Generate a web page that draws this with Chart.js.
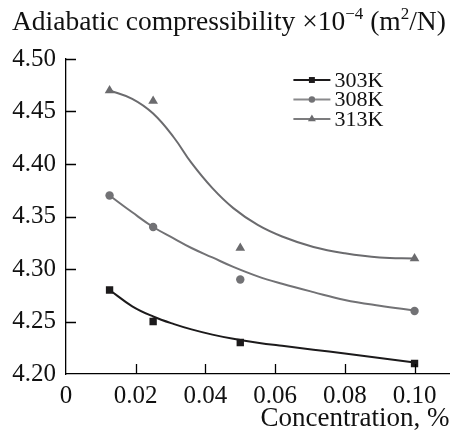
<!DOCTYPE html>
<html>
<head>
<meta charset="utf-8">
<script src="https://cdn.jsdelivr.net/npm/chart.js@4.4.1/dist/chart.umd.min.js"></script>
<style>
  html, body { margin: 0; padding: 0; background: #fff; }
  #wrap { width: 455px; height: 432px; }
</style>
</head>
<body>
<div id="wrap"><canvas id="compChart" width="455" height="432"></canvas></div>
<script>
        // --- 1. Data ---

        const concentration = [0.0125, 0.025, 0.05, 0.1];
        const k303 = [4.28, 4.25, 4.23, 4.21];
        const k308 = [4.37, 4.34, 4.29, 4.26];
        const k313 = [4.47, 4.46, 4.32, 4.31];

        // fitted trend lines
        const fitConc = [0.0125, 0.019, 0.025, 0.031, 0.036, 0.042, 0.048, 0.055, 0.062, 0.071, 0.08, 0.09, 0.1];
        const fit303 = [4.280, 4.2645, 4.2548, 4.2475, 4.2425, 4.2375, 4.2335, 4.2298, 4.2268, 4.2232, 4.2195, 4.2153, 4.211];
        const fit308 = [4.370, 4.354, 4.340, 4.329, 4.320, 4.311, 4.302, 4.293, 4.286, 4.278, 4.2705, 4.265, 4.2605];
        const fit313 = [4.470, 4.462, 4.448, 4.425, 4.401, 4.377, 4.358, 4.342, 4.331, 4.321, 4.315, 4.311, 4.310];

        const seriesLabels = ['303K', '308K', '313K'];
        const xTicks = [0, 0.02, 0.04, 0.06, 0.08, 0.10];
        const xTickLabels = ['0', '0.02', '0.04', '0.06', '0.08', '0.10'];
        const yTicks = [4.20, 4.25, 4.30, 4.35, 4.40, 4.45, 4.50];
        const yTickLabels = ['4.20', '4.25', '4.30', '4.35', '4.40', '4.45', '4.50'];

        const SERIF = "'Liberation Serif', 'Times New Roman', serif";
        const toXY = (xs, ys) => xs.map((x, i) => ({ x: x, y: ys[i] }));

        const styles = [
            { color: '#1c1a1b', legendLine: '#1c1a1b', point: 'rect', radius: 5.2 },
            { color: '#727275', legendLine: '#8a8a8c', point: 'circle', radius: 4.2 },
            { color: '#6b6b6e', legendLine: '#7c7c7e', point: 'triangle', radius: 5.6 }
        ];

        // --- 2. Small plugins: inward ticks, title, legend ---

        const inwardTicks = {
            id: 'inwardTicks',
            afterDraw(chart) {
                const { ctx, chartArea, scales } = chart;
                ctx.save();
                ctx.strokeStyle = '#000';
                ctx.lineWidth = 1.3;
                ctx.beginPath();
                yTicks.slice(1).forEach(v => {
                    const py = Math.round(scales.y.getPixelForValue(v)) + 0.5;
                    ctx.moveTo(chartArea.left, py);
                    ctx.lineTo(chartArea.left + 10, py);
                });
                xTicks.slice(1).forEach(v => {
                    const px = Math.round(scales.x.getPixelForValue(v)) + 0.5;
                    ctx.moveTo(px, chartArea.bottom);
                    ctx.lineTo(px, chartArea.bottom - 10);
                });
                ctx.stroke();
                ctx.restore();
            }
        };

        const axisTitle = {
            id: 'axisTitle',
            afterDraw(chart) {
                const ctx = chart.ctx;
                const big = '27.5px ' + SERIF, small = '17px ' + SERIF;
                const parts = [
                    ['Adiabatic compressibility \u00d710', big, 0],
                    ['\u22124', small, -11],
                    [' (m', big, 0],
                    ['2', small, -11],
                    ['/N)', big, 0]
                ];
                ctx.save();
                ctx.fillStyle = '#111';
                ctx.textBaseline = 'alphabetic';
                let x = 12;
                parts.forEach(([t, f, dy]) => {
                    ctx.font = f;
                    ctx.fillText(t, x, 30 + dy);
                    x += ctx.measureText(t).width;
                });
                ctx.restore();
            }
        };

        const markerPath = (ctx, kind, x, y, r) => {
            ctx.beginPath();
            if (kind === 'rect') {
                const s = r * Math.SQRT1_2;
                ctx.rect(x - s, y - s, 2 * s, 2 * s);
            } else if (kind === 'circle') {
                ctx.arc(x, y, r, 0, Math.PI * 2);
            } else {
                ctx.moveTo(x, y - r);
                ctx.lineTo(x + r * 0.866, y + r * 0.5);
                ctx.lineTo(x - r * 0.866, y + r * 0.5);
                ctx.closePath();
            }
            ctx.fill();
        };

        const insideLegend = {
            id: 'insideLegend',
            afterDraw(chart) {
                const { ctx, chartArea } = chart;
                const x0 = chartArea.right - 158;
                ctx.save();
                ctx.font = '22px ' + SERIF;
                ctx.textBaseline = 'middle';
                seriesLabels.forEach((lab, i) => {
                    const y = chartArea.top + 21 + i * 19.5;
                    const st = styles[i];
                    ctx.strokeStyle = st.legendLine;
                    ctx.lineWidth = 2;
                    ctx.beginPath();
                    ctx.moveTo(x0 + 2, y);
                    ctx.lineTo(x0 + 39, y);
                    ctx.stroke();
                    ctx.fillStyle = st.color;
                    markerPath(ctx, st.point, x0 + 20.5, y, st.radius - 1);
                    ctx.fillStyle = '#111';
                    ctx.fillText(lab, x0 + 43, y + 1);
                });
                ctx.restore();
            }
        };

        // --- 3. Chart ---

        const pointSets = [k303, k308, k313].map((ys, i) => ({
            label: seriesLabels[i],
            data: toXY(concentration, ys),
            showLine: false,
            pointStyle: styles[i].point,
            pointRadius: styles[i].radius,
            pointBackgroundColor: styles[i].color,
            pointBorderWidth: 0,
            borderColor: styles[i].color
        }));

        const fitSets = [fit303, fit308, fit313].map((ys, i) => ({
            label: seriesLabels[i] + ' fit',
            data: toXY(fitConc, ys),
            showLine: true,
            pointRadius: 0,
            borderColor: styles[i].color,
            borderWidth: 2,
            tension: 0.4
        }));

        new Chart(document.getElementById('compChart'), {
            type: 'scatter',
            data: { datasets: pointSets.concat(fitSets) },
            options: {
                responsive: false,
                animation: false,
                layout: { padding: { top: 59, right: 2, left: 0, bottom: 0 } },
                plugins: {
                    legend: { display: false },
                    tooltip: { enabled: false }
                },
                scales: {
                    x: {
                        type: 'linear',
                        min: 0,
                        max: 0.11,
                        afterBuildTicks: s => { s.ticks = xTicks.map(v => ({ value: v })); },
                        afterFit: s => { s.height = 58; },
                        grid: { drawOnChartArea: false, drawTicks: false },
                        border: { display: true, color: '#000', width: 1.3 },
                        ticks: {
                            autoSkip: false,
                            maxRotation: 0,
                            padding: 7,
                            color: '#111',
                            font: { family: SERIF, size: 25 },
                            callback: v => xTickLabels[xTicks.indexOf(v)]
                        },
                        title: {
                            display: true,
                            text: 'Concentration, %',
                            align: 'end',
                            color: '#111',
                            padding: 0,
                            font: { family: SERIF, size: 27, lineHeight: 1 }
                        }
                    },
                    y: {
                        min: 4.2,
                        max: 4.5,
                        afterBuildTicks: s => { s.ticks = yTicks.map(v => ({ value: v })); },
                        afterFit: s => { s.width = 66; },
                        grid: { drawOnChartArea: false, drawTicks: false },
                        border: { display: true, color: '#000', width: 1.3 },
                        ticks: {
                            padding: 10,
                            color: '#111',
                            font: { family: SERIF, size: 25 },
                            callback: v => yTickLabels[yTicks.indexOf(v)]
                        }
                    }
                }
            },
            plugins: [inwardTicks, axisTitle, insideLegend]
        });
</script>
</body>
</html>
